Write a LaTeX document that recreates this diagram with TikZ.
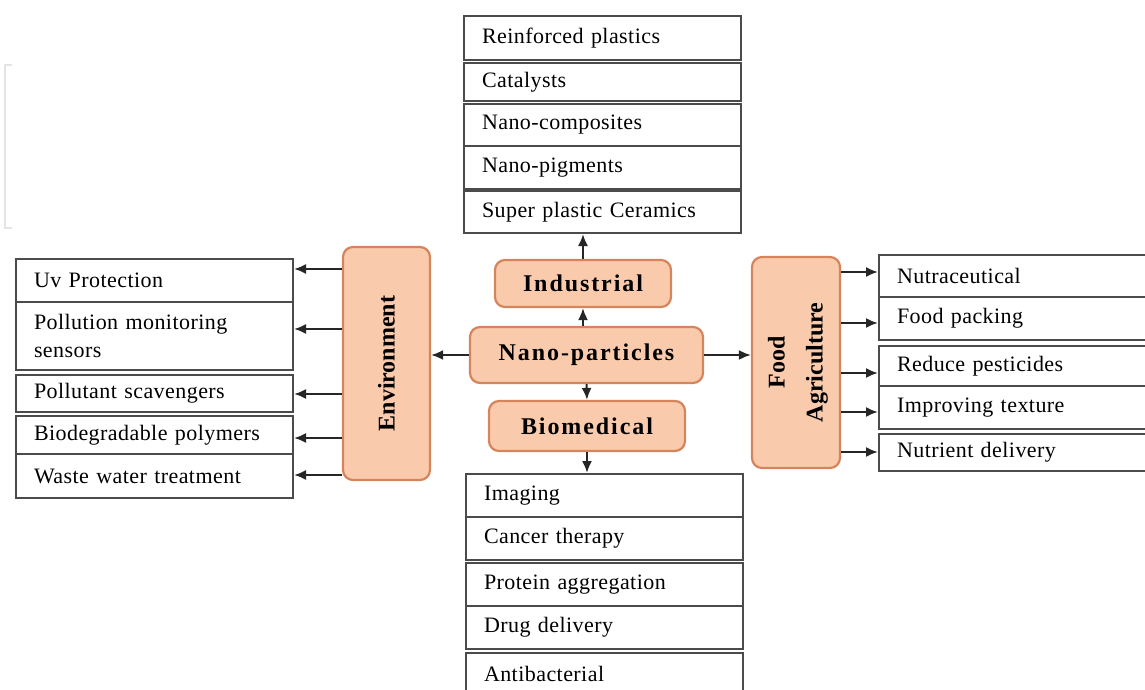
\documentclass[tikz,border=0pt]{standalone}
\usepackage{fontspec}
\setmainfont{Liberation Serif}
\usetikzlibrary{arrows.meta}
\definecolor{peach}{RGB}{249,203,172}
\definecolor{peachline}{RGB}{214,132,92}
\definecolor{boxline}{RGB}{75,75,75}
\definecolor{faint}{RGB}{228,228,228}
\begin{document}
\begin{tikzpicture}[x=1pt,y=-1pt,
  item/.style={draw=boxline, line width=2pt, fill=white, anchor=north west,
    inner xsep=18pt, inner ysep=0pt, align=left, text width=241pt,
    minimum height=#1,
    font=\fontsize{22}{28}\selectfont\addfontfeatures{LetterSpace=2}},
  cat/.style={draw=peachline, fill=peach, line width=2.2pt, rounded corners=10pt,
    inner sep=0pt, font=\bfseries\fontsize{24}{28}\selectfont\addfontfeatures{LetterSpace=8}},
  vlabel/.style={rotate=90, inner sep=0pt, align=center,
    font=\bfseries\fontsize{24}{38}\selectfont},
  arr/.style={-{Latex[length=12pt,width=10pt]}, line width=2pt, draw=black!85}]
\useasboundingbox (0,0) rectangle (1145,690);
% faint bracket
\draw[faint, line width=2pt] (12,65) -- (5,65) -- (5,228) -- (12,228);
% top stack
\node[item=44pt] (t1) at (463,15)  {Reinforced plastics};
\node[item=38pt] (t2) at (463,62)  {Catalysts};
\node[item=42pt] (t3) at (463,103) {Nano-composites};
\node[item=43pt] (t4) at (463,145) {Nano-pigments};
\node[item=42pt] (t5) at (463,190) {Super plastic Ceramics};
% left stack
\node[item=43pt] (l1) at (15,258) {Uv Protection};
\node[item=68pt] (l2) at (15,301) {Pollution monitoring\\sensors};
\node[item=37pt] (l3) at (15,374) {Pollutant scavengers};
\node[item=38pt] (l4) at (15,415) {Biodegradable polymers};
\node[item=44pt] (l5) at (15,453) {Waste water treatment};
% right stack
\node[item=42pt] (r1) at (878,254) {Nutraceutical};
\node[item=43pt] (r2) at (878,296) {Food packing};
\node[item=40pt] (r3) at (878,345) {Reduce pesticides};
\node[item=43pt] (r4) at (878,385) {Improving texture};
\node[item=37pt] (r5) at (878,433) {Nutrient delivery};
% bottom stack
\node[item=43pt] (b1) at (465,473) {Imaging};
\node[item=43pt] (b2) at (465,516) {Cancer therapy};
\node[item=43pt] (b3) at (465,562) {Protein aggregation};
\node[item=43pt] (b4) at (465,605) {Drug delivery};
\node[item=42pt] (b5) at (465,652) {Antibacterial};
% category boxes
\node[cat, minimum width=176pt, minimum height=47pt] (ind) at (583,283.5) {Industrial};
\node[cat, minimum width=233pt, minimum height=56pt] (nano) at (586.5,355) {Nano-particles};
\node[cat, minimum width=196pt, minimum height=50pt] (bio) at (587,426) {Biomedical};
\node[cat, minimum width=87pt, minimum height=233pt] (env) at (386.5,363.5) {};
\node[vlabel] (envt) at (env.center) {Environment};
\node[cat, minimum width=88pt, minimum height=211pt] (food) at (796,362.5) {};
\node[vlabel] (foodt) at ([xshift=2pt]food.center) {Food\\Agriculture};
% central arrows
\draw[arr] (nano.north -| ind.south) -- (ind.south);
\draw[arr] (ind.north) -- (t5.south -| ind.north);
\draw[arr] (nano.south) -- (bio.north);
\draw[arr] (bio.south) -- (b1.north -| bio.south);
\draw[arr] (nano.west) -- (nano.west -| env.east);
\draw[arr] (nano.east) -- (nano.east -| food.west);
% environment arrows
\coordinate (e1) at (0,269);
\coordinate (e2) at (0,329);
\coordinate (e3) at (0,394);
\coordinate (e4) at (0,438);
\coordinate (e5) at (0,475);
\draw[arr] (env.west |- e1) -- (l1.east |- e1);
\draw[arr] (env.west |- e2) -- (l2.east |- e2);
\draw[arr] (env.west |- e3) -- (l3.east |- e3);
\draw[arr] (env.west |- e4) -- (l4.east |- e4);
\draw[arr] (env.west |- e5) -- (l5.east |- e5);
% food arrows
\coordinate (f1) at (0,272);
\coordinate (f2) at (0,323);
\coordinate (f3) at (0,373);
\coordinate (f4) at (0,412);
\coordinate (f5) at (0,452);
\draw[arr] (food.east |- f1) -- (r1.west |- f1);
\draw[arr] (food.east |- f2) -- (r2.west |- f2);
\draw[arr] (food.east |- f3) -- (r3.west |- f3);
\draw[arr] (food.east |- f4) -- (r4.west |- f4);
\draw[arr] (food.east |- f5) -- (r5.west |- f5);
\end{tikzpicture}
\end{document}
